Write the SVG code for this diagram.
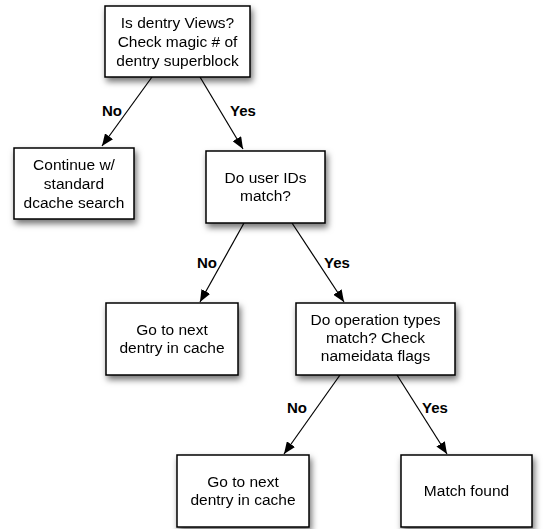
<svg xmlns="http://www.w3.org/2000/svg" width="547" height="529" viewBox="0 0 547 529">
  <style>
    .box { fill: #ffffff; stroke: #000000; stroke-width: 1.5; }
    .node { filter: url(#shadow); }
    .txt { font-family: "Liberation Sans", Arial, Helvetica, sans-serif; font-size: 15.5px; fill: #000000; text-anchor: middle; }
    .lbl { font-family: "Liberation Sans", Arial, Helvetica, sans-serif; font-size: 15px; font-weight: bold; fill: #000000; text-anchor: middle; }
    .edge { stroke: #000000; stroke-width: 1.2; fill: none; marker-end: url(#arrow); }
  </style>
  <defs>
    <filter id="shadow" x="-20%" y="-20%" width="140%" height="150%">
      <feDropShadow dx="2" dy="4" stdDeviation="3" flood-color="#000000" flood-opacity="0.55"/>
    </filter>
    <marker id="arrow" viewBox="0 0 12 10" refX="12" refY="5" markerWidth="12" markerHeight="10" markerUnits="userSpaceOnUse" orient="auto">
      <path d="M0,0 L12,5 L0,10 Z" fill="#000000"/>
    </marker>
  </defs>

  <rect width="547" height="529" fill="#ffffff"/>

  <!-- connectors -->
  <g id="connectors">
    <line class="edge" x1="152" y1="77" x2="102" y2="146"/>
    <line class="edge" x1="200" y1="77" x2="243" y2="149"/>
    <line class="edge" x1="244" y1="223" x2="200" y2="302"/>
    <line class="edge" x1="292" y1="223" x2="344" y2="302"/>
    <line class="edge" x1="340" y1="375" x2="284" y2="454"/>
    <line class="edge" x1="397" y1="375" x2="447" y2="454"/>
    <text class="lbl" x="112" y="116">No</text>
    <text class="lbl" x="243" y="116">Yes</text>
    <text class="lbl" x="207" y="268">No</text>
    <text class="lbl" x="337" y="268">Yes</text>
    <text class="lbl" x="297" y="413">No</text>
    <text class="lbl" x="435" y="413">Yes</text>
  </g>

  <!-- nodes -->
  <g id="dentry-check" class="node">
    <rect class="box" x="105" y="6" width="145" height="71"/>
    <text class="txt" x="177.5" y="28">Is dentry Views?</text>
    <text class="txt" x="177.5" y="47">Check magic # of</text>
    <text class="txt" x="177.5" y="65.5">dentry superblock</text>
  </g>

  <g id="standard-search" class="node">
    <rect class="box" x="14" y="148" width="120" height="71"/>
    <text class="txt" x="74" y="170">Continue w/</text>
    <text class="txt" x="74" y="189">standard</text>
    <text class="txt" x="74" y="207.5">dcache search</text>
  </g>

  <g id="user-ids" class="node">
    <rect class="box" x="206" y="151" width="119" height="72"/>
    <text class="txt" x="265.5" y="182.5">Do user IDs</text>
    <text class="txt" x="265.5" y="201">match?</text>
  </g>

  <g id="next-dentry-1" class="node">
    <rect class="box" x="106" y="303" width="132" height="72"/>
    <text class="txt" x="172" y="334.5">Go to next</text>
    <text class="txt" x="172" y="352.5">dentry in cache</text>
  </g>

  <g id="operation-types" class="node">
    <rect class="box" x="296" y="303" width="159" height="72"/>
    <text class="txt" x="375.5" y="324.5">Do operation types</text>
    <text class="txt" x="375.5" y="343">match? Check</text>
    <text class="txt" x="375.5" y="361">nameidata flags</text>
  </g>

  <g id="next-dentry-2" class="node">
    <rect class="box" x="177" y="455" width="132" height="72"/>
    <text class="txt" x="243" y="487">Go to next</text>
    <text class="txt" x="243" y="505">dentry in cache</text>
  </g>

  <g id="match-found" class="node">
    <rect class="box" x="401" y="455" width="131" height="72"/>
    <text class="txt" x="466.5" y="496">Match found</text>
  </g>
</svg>
